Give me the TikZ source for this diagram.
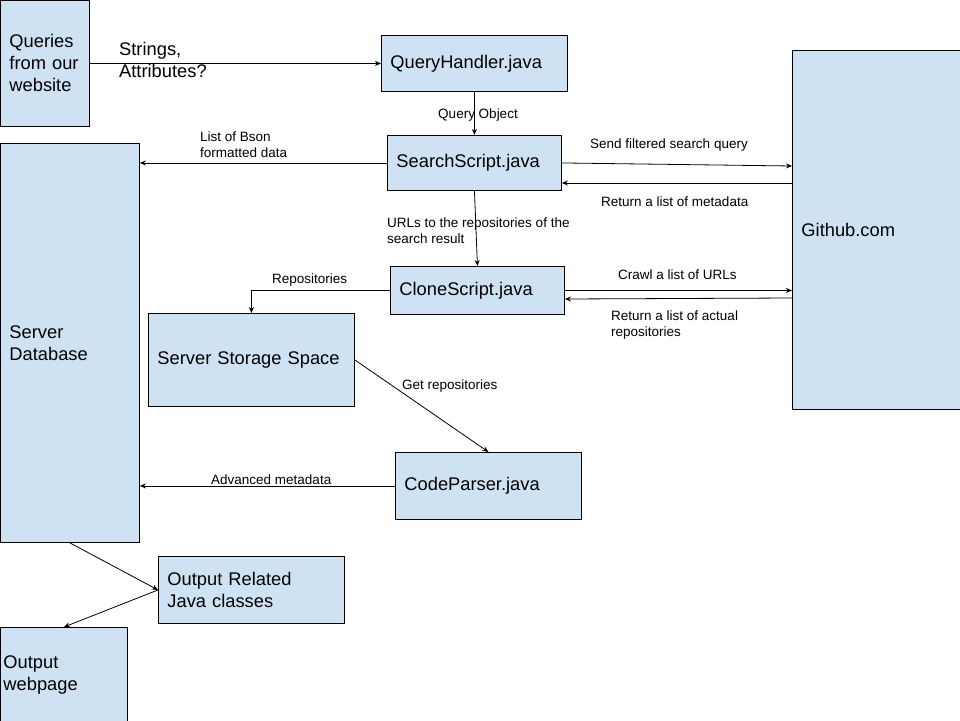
\documentclass[tikz,border=0pt]{standalone}
\usepackage{fontspec}
\setmainfont{Liberation Sans}
\usetikzlibrary{arrows.meta}
\definecolor{boxblue}{HTML}{CFE2F3}
\tikzset{
  box/.style={draw=black, fill=boxblue, line width=0.9pt, anchor=north west,
    inner xsep=9pt, inner ysep=0pt, align=left, font=\fontsize{18.3}{22}\selectfont},
  lbl/.style={font=\fontsize{13.5}{16}\selectfont, align=left, inner sep=0pt, anchor=west},
  biglbl/.style={font=\fontsize{18.3}{22}\selectfont, align=left, inner sep=0pt, anchor=west},
  conn/.style={draw=black, line width=0.8pt, -{Stealth[length=6pt,width=5pt]}},
}
\begin{document}
\begin{tikzpicture}[x=1pt,y=-1pt]
\useasboundingbox[fill=white] (0,0) rectangle (960,720);
% boxes
\node[box, minimum width=89, minimum height=126, text width=71] (q) at (0,0) {Queries\\from our\\website};
\node[box, minimum width=186, minimum height=56, text width=168] (qh) at (381,35) {QueryHandler.java};
\node[box, minimum width=174, minimum height=55, text width=156] (ss) at (387,135) {SearchScript.java};
\node[box, minimum width=139, minimum height=399, text width=121] (db) at (0,143) {Server\\Database};
\node[box, minimum width=170, minimum height=359, text width=152] (gh) at (792,50) {Github.com};
\node[box, minimum width=174, minimum height=48, text width=156] (cs) at (390,266) {CloneScript.java};
\node[box, minimum width=206, minimum height=93, text width=188] (st) at (148,313) {Server Storage Space};
\node[box, minimum width=186, minimum height=67, text width=168] (cp) at (395,452) {CodeParser.java};
\node[box, minimum width=186, minimum height=67, text width=168] (oj) at (158,556) {Output Related\\Java classes};
\node[box, minimum width=127, minimum height=95, text width=121, inner xsep=3pt] (ow) at (0,627) {Output\\webpage};
% connectors
\draw[conn] (q.east) -- (qh.west);
\draw[conn] (qh.south) -- (ss.north);
\draw[conn] (ss.west) -- (db.east |- ss.west);
\draw[conn] (ss.east) -- (gh.west |- 0,166);
\draw[conn] (gh.west |- 0,183) -- (ss.east |- 0,183);
\draw[conn] (ss.south) -- (cs.north);
\draw[conn] (cs.west) -| (st.north);
\draw[conn] (cs.east) -- (gh.west |- cs.east);
\draw[conn] (gh.west |- 0,298) -- (cs.east |- 0,299);
\draw[conn] (st.east) -- (cp.north);
\draw[conn] (cp.west) -- (db.east |- cp.west);
\draw[conn] (db.south) -- (oj.west);
\draw[conn] (oj.west) -- (ow.north);
% labels
\node[biglbl] (l1) at (119,60) {Strings,\\Attributes?};
\node[lbl, anchor=center] (l2) at (478,115) {Query Object};
\node[lbl] (l3) at (200,145) {List of Bson\\formatted data};
\node[lbl] (l4) at (590,145) {Send filtered search query};
\node[lbl] (l5) at (601,202) {Return a list of metadata};
\node[lbl] (l6) at (387,231) {URLs to the repositories of the\\search result};
\node[lbl] (l7) at (272,280) {Repositories};
\node[lbl] (l8) at (618,275) {Crawl a list of URLs};
\node[lbl] (l9) at (611,325) {Return a list of actual\\repositories};
\node[lbl] (l10) at (402,386) {Get repositories};
\node[lbl] (l11) at (211,480) {Advanced metadata};
\end{tikzpicture}
\end{document}
